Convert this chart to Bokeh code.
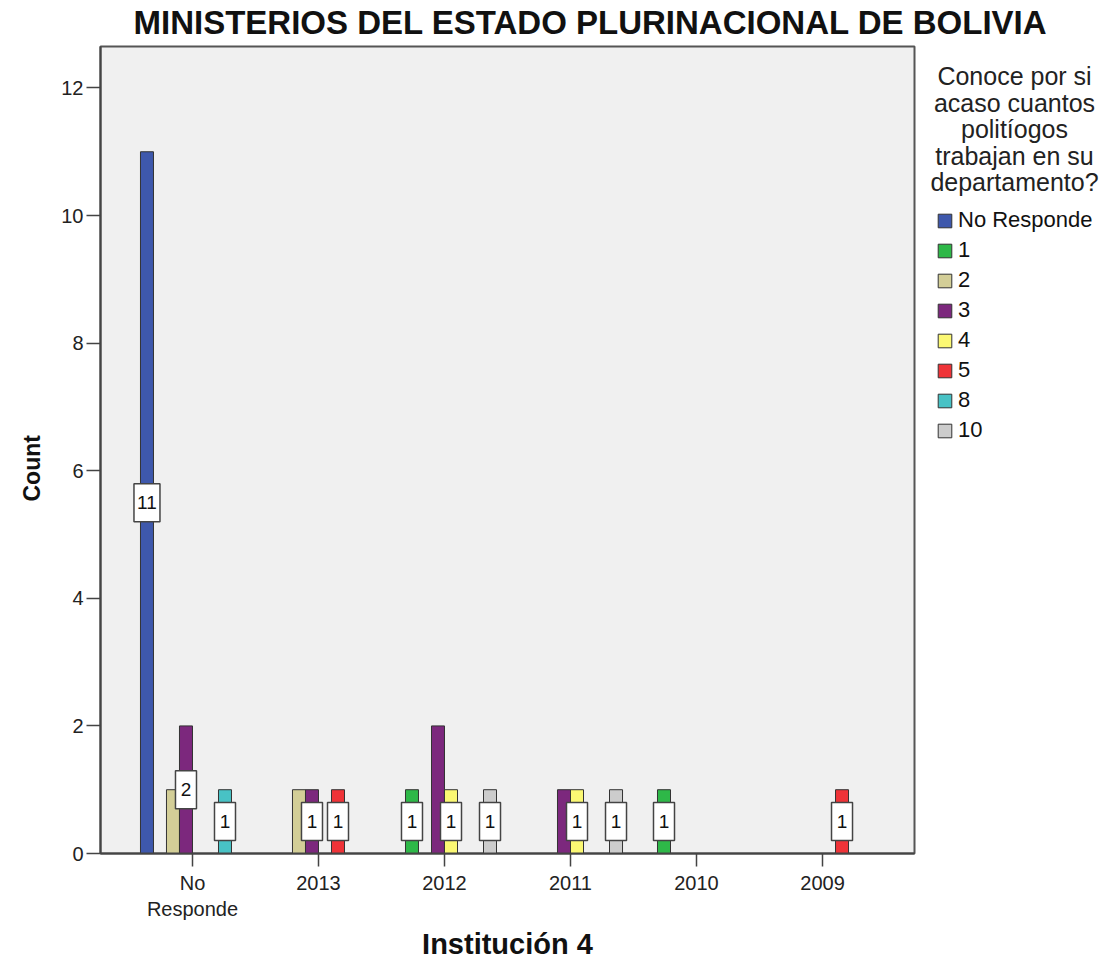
from bokeh.plotting import figure
from bokeh.layouts import row, column
from bokeh.models import Range1d, FixedTicker, Legend, LegendItem, ColumnDataSource, Title
from bokeh.embed import file_html
from bokeh.resources import INLINE
from bokeh.core.properties import value

# ---------------- data ----------------
title_text = "MINISTERIOS DEL ESTADO PLURINACIONAL DE BOLIVIA"
categories = ["No Responde", "2013", "2012", "2011", "2010", "2009"]
cat_labels = ["No\nResponde", "2013", "2012", "2011", "2010", "2009"]
series = ["No Responde", "1", "2", "3", "4", "5", "8", "10"]
colors = ["#3E58AC", "#2EB848", "#D3CE97", "#7C287D", "#FBF873", "#EF3338", "#48C2C5", "#CCCCCC"]
cnt_no_responde = [11, 0, 0, 0, 0, 0]
cnt_1 = [0, 0, 1, 0, 1, 0]
cnt_2 = [1, 1, 0, 0, 0, 0]
cnt_3 = [2, 1, 2, 1, 0, 0]
cnt_4 = [0, 0, 1, 1, 0, 0]
cnt_5 = [0, 1, 0, 0, 0, 1]
cnt_8 = [1, 0, 0, 0, 0, 0]
cnt_10 = [0, 0, 1, 1, 0, 0]
counts = [cnt_no_responde, cnt_1, cnt_2, cnt_3, cnt_4, cnt_5, cnt_8, cnt_10]
hidden_labels = [("No Responde", "2"), ("2013", "2"), ("2012", "3"), ("2011", "3")]
legend_title_lines = ["Conoce por si", "acaso cuantos", "politíogos", "trabajan en su", "departamento?"]
y_ticks = [0, 2, 4, 6, 8, 10, 12]
x_title = "Institución 4"
y_title = "Count"

# ---------------- layout constants ----------------
FONT = "Liberation Sans"
TOTAL_W = 1100
TH = 44                      # height of the title strip
FW, FH = 814, 807
FL = 100                     # frame left
FT = 46                      # frame top (page)
FB = FT + FH                 # frame bottom (page)
H = 960 - TH                 # height of plot row
X0, X1 = -0.73, 5.73
Y0, Y1 = 0.0, 12.65
n_slots = len(series)
slot_w = 0.1032

# ---------------- title strip ----------------
tf = figure(width=TOTAL_W, height=TH, x_range=Range1d(0, TOTAL_W), y_range=Range1d(TH, 0),
            output_backend="svg", toolbar_location=None, title=None,
            x_axis_type=None, y_axis_type=None, min_border=0,
            outline_line_color=None, background_fill_color="white", border_fill_color="white")
tf.grid.visible = False
tf.text(x=[133], y=[22], text=[title_text], text_align="left", text_baseline="middle",
        text_font=value(FONT), text_font_size="33px", text_font_style="bold", text_color="#111111")

# ---------------- main plot ----------------
p = figure(frame_width=FW, frame_height=FH,
           x_range=Range1d(X0, X1), y_range=Range1d(Y0, Y1),
           output_backend="svg", toolbar_location=None, title=None,
           min_border_left=FL, min_border_right=8, min_border_top=FT - TH,
           min_border_bottom=H - (FT - TH) - FH,
           background_fill_color="#F0F0F0", border_fill_color="white",
           outline_line_color="#555555", outline_line_width=2)
p.grid.visible = False

# y axis
p.yaxis.ticker = FixedTicker(ticks=y_ticks)
p.yaxis.minor_tick_line_color = None
p.yaxis.major_tick_out = 14
p.yaxis.major_tick_in = 0
p.yaxis.major_label_standoff = 3
p.yaxis.major_label_text_font = FONT
p.yaxis.major_label_text_font_size = "20px"
p.yaxis.major_label_text_color = "#222222"
p.yaxis.axis_line_width = 2
p.yaxis.axis_line_color = "#444444"
p.yaxis.major_tick_line_color = "#444444"
p.yaxis.major_tick_line_width = 1.5

p.add_layout(Title(text=y_title, align="left", offset=352, vertical_align="bottom",
                   standoff=27, text_font=FONT, text_font_size="23px",
                   text_font_style="bold", text_color="#111111"), "left")

# x axis
p.xaxis.ticker = FixedTicker(ticks=list(range(len(categories))))
p.xaxis.major_label_overrides = {i: lab for i, lab in enumerate(cat_labels)}
p.xaxis.minor_tick_line_color = None
p.xaxis.major_tick_out = 13
p.xaxis.major_tick_in = 0
p.xaxis.major_label_standoff = 5
p.xaxis.major_label_text_font = FONT
p.xaxis.major_label_text_font_size = "20px"
p.xaxis.major_label_text_color = "#222222"
p.xaxis.axis_label = x_title
p.xaxis.axis_label_text_font = FONT
p.xaxis.axis_label_text_font_style = "bold"
p.xaxis.axis_label_text_font_size = "29px"
p.xaxis.axis_label_text_color = "#111111"
p.xaxis.axis_label_standoff = 5
p.xaxis.axis_line_width = 2
p.xaxis.axis_line_color = "#444444"
p.xaxis.major_tick_line_color = "#444444"
p.xaxis.major_tick_line_width = 1.5

# bars
lab_x, lab_y, lab_t, lab_w = [], [], [], []
for s_i, (name, col, vals) in enumerate(zip(series, colors, counts)):
    xs, tops = [], []
    for c_i, v in enumerate(vals):
        if v > 0:
            xc = c_i + (s_i - (n_slots - 1) / 2) * slot_w
            xs.append(xc)
            tops.append(v)
            if (categories[c_i], name) not in hidden_labels:
                lab_x.append(xc)
                lab_y.append(v / 2)
                lab_t.append(str(v))
                lab_w.append(21 if len(str(v)) == 1 else 26)
    src = ColumnDataSource(dict(x=xs, top=tops))
    p.vbar(x="x", top="top", width=slot_w, source=src,
           fill_color=col, line_color="#333333", line_width=1)

lsrc = ColumnDataSource(dict(x=lab_x, y=lab_y, t=lab_t, w=lab_w))
p.rect(x="x", y="y", width="w", height=38, width_units="screen", height_units="screen",
       source=lsrc, fill_color="white", line_color="#444444", line_width=1.5)
p.text(x="x", y="y", text="t", source=lsrc, text_align="center", text_baseline="middle",
       text_font=value(FONT), text_font_size="19px", text_color="#111111")

# ---------------- legend panel (page pixel coordinates, frame aligned with main frame) ----------------
LX0 = FL + FW + 8
LW = TOTAL_W - LX0
pl = figure(width=LW, height=H, x_range=Range1d(LX0, TOTAL_W), y_range=Range1d(FB, FT),
            output_backend="svg", toolbar_location=None, title=None,
            x_axis_type=None, y_axis_type=None, min_border=0,
            outline_line_color=None, background_fill_color="white", border_fill_color="white")
pl.grid.visible = False

dummies = []
for name, col in zip(series, colors):
    dsrc = ColumnDataSource(dict(x=[float("nan")], top=[float("nan")]))
    dummies.append(pl.vbar(x="x", top="top", width=1, source=dsrc,
                           fill_color=col, line_color="#333333", line_width=1))

legend = Legend(items=[LegendItem(label=s, renderers=[r]) for s, r in zip(series, dummies)],
                location=(936 - LX0, 408), orientation="vertical",
                padding=0, margin=0, spacing=4, label_height=20,
                glyph_width=17, glyph_height=17, label_standoff=5,
                label_text_font=FONT, label_text_font_size="22px", label_text_color="#111111",
                background_fill_alpha=0, border_line_alpha=0)
pl.add_layout(legend)

tsrc = ColumnDataSource(dict(x=[1014] * len(legend_title_lines),
                             y=[76 + 26.5 * i for i in range(len(legend_title_lines))],
                             t=legend_title_lines))
pl.text(x="x", y="y", text="t", source=tsrc, text_align="center", text_baseline="middle",
        text_font=value(FONT), text_font_size="25px", text_color="#222222")

layout = column(tf, row(p, pl))
html = file_html(layout, INLINE)
open("out.html", "w").write(html)
